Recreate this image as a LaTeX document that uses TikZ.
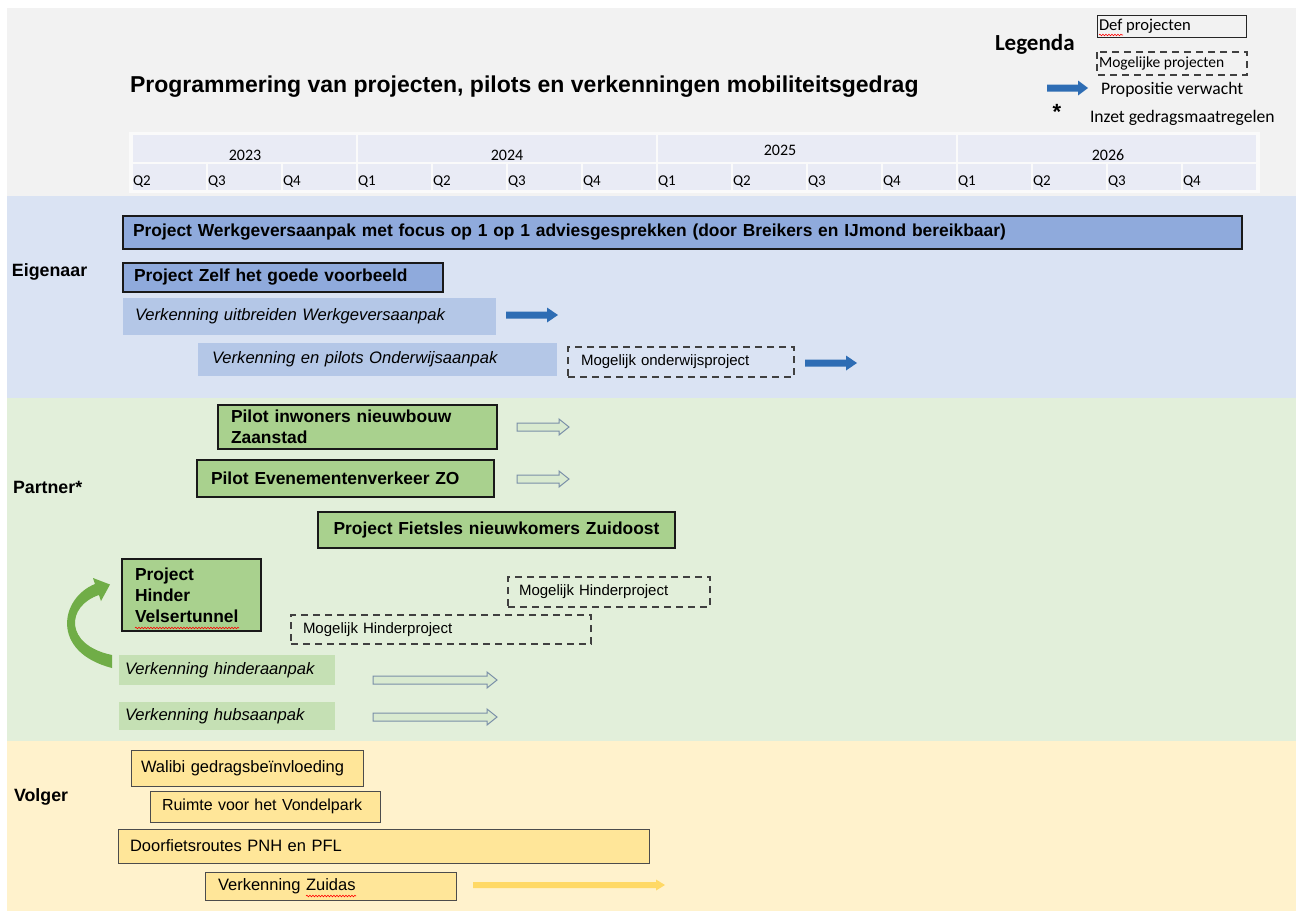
\documentclass[tikz,border=0pt]{standalone}
\usepackage{fontspec}
\setmainfont{Liberation Sans}
\newfontfamily\calfont{Carlito}
\usetikzlibrary{decorations.pathmorphing}
\definecolor{hdrgray}{HTML}{F2F2F2}
\definecolor{eigblue}{HTML}{DAE3F3}
\definecolor{partgreen}{HTML}{E2EFDA}
\definecolor{volyellow}{HTML}{FFF2CC}
\definecolor{tlcell}{HTML}{E9EBF5}
\definecolor{darkbluebox}{HTML}{8FAADC}
\definecolor{lightbluebox}{HTML}{B4C7E7}
\definecolor{arrowblue}{HTML}{2E6DB4}
\definecolor{greenbox}{HTML}{A9D18E}
\definecolor{lightgreenbox}{HTML}{C5E0B4}
\definecolor{hollowfill}{HTML}{D9EAD0}
\definecolor{hollowedge}{HTML}{7A8FA8}
\definecolor{yellowbox}{HTML}{FFE699}
\definecolor{arrowyellow}{HTML}{FFD966}
\definecolor{curvegreen}{HTML}{70AD47}
\newcommand\blkarr[7]{%
  \path[#1] (#2,#4-#5) -- (#3-#7,#4-#5) -- (#3-#7,#4-#6) -- (#3,#4) -- (#3-#7,#4+#6) -- (#3-#7,#4+#5) -- (#2,#4+#5) -- cycle;}
\tikzset{
  every node/.style={inner sep=0pt, outer sep=0pt},
  fb/.style={font=\fontsize{17.4}{21}\selectfont\bfseries},
  fi/.style={font=\fontsize{16.6}{20}\selectfont\itshape},
  fr/.style={font=\fontsize{16.5}{20}\selectfont},
  fs/.style={font=\fontsize{15}{18}\selectfont},
  tbar/.style={anchor=north west, inner ysep=0pt, align=left},
  defbar/.style={tbar, draw=black!90, line width=2.2pt, fb},
  bluedef/.style={defbar, fill=darkbluebox},
  greendef/.style={defbar, fill=greenbox},
  explbar/.style={tbar, fi},
  mogbox/.style={tbar, draw=black!75, line width=1.2pt, dash pattern=on 7pt off 5pt, fs},
  volbox/.style={tbar, fill=yellowbox, draw=black!70, line width=0.9pt, fr},
  secl/.style={anchor=west, font=\fontsize{17.8}{20}\selectfont\bfseries},
  tly/.style={font=\calfont\fontsize{16}{18}\selectfont},
  tlq/.style={font=\calfont\fontsize{15}{18}\selectfont},
  lg/.style={anchor=west, font=\calfont\fontsize{17.6}{20}\selectfont},
  lgbox/.style={anchor=west, font=\calfont\fontsize{16}{18}\selectfont},
  blockblue/.style={fill=arrowblue},
  blockhollow/.style={fill=hollowfill, draw=hollowedge, line width=1pt},
  blockyellow/.style={fill=arrowyellow},
  squig/.style={draw=red, line width=0.6pt, decorate, decoration={snake, amplitude=0.8pt, segment length=3pt}},
}
\begin{document}
\begin{tikzpicture}[x=1pt,y=-1pt]
\useasboundingbox (0,0) rectangle (1298,913);
\fill[white] (0,0) rectangle (1298,913);
\fill[hdrgray] (7,8) rectangle (1296,196);
\fill[eigblue] (7,196) rectangle (1296,398);
\fill[partgreen] (7,398) rectangle (1296,741);
\fill[volyellow] (7,741) rectangle (1296,911);

% timeline
\fill[white!60!hdrgray] (129,132) rectangle (1260,193);
\foreach \x/\y in {132/357, 357/657, 657/957, 957/1257}
  \fill[tlcell] (\x+1,135) rectangle (\y-1,162);
\node[tly] (y2023) at (245,155) {2023};
\node[tly] (y2024) at (507,155) {2024};
\node[tly] (y2025) at (780,150) {2025};
\node[tly] (y2026) at (1108,155) {2026};
\foreach \i/\q in {0/Q2,1/Q3,2/Q4,3/Q1,4/Q2,5/Q3,6/Q4,7/Q1,8/Q2,9/Q3,10/Q4,11/Q1,12/Q2,13/Q3,14/Q4} {
  \fill[tlcell] (132+75*\i+1,164) rectangle (132+75*\i+74,190);
  \node[tlq, anchor=west] (q\i) at (132+75*\i+1,182) {\q};
}

% title and legend
\node[anchor=west, font=\fontsize{23}{26}\selectfont\bfseries] (title) at (130,87)
  {Programmering van projecten, pilots en verkenningen mobiliteitsgedrag};
\node[anchor=west, font=\calfont\fontsize{23}{26}\selectfont\bfseries] (legenda) at (995,44) {Legenda};
\draw[black!85, line width=1pt] (1097,15) rectangle (1246,37);
\node[lgbox, font=\calfont\fontsize{16.6}{18}\selectfont] (ldef) at (1099,26) {Def projecten};
\draw[squig] (1099,35) -- (1123,35);
\draw[black!75, line width=1.2pt, dash pattern=on 7pt off 5pt] (1097,52) rectangle (1247,75);
\node[lgbox, font=\calfont\fontsize{15.5}{18}\selectfont] (lmog) at (1099,63) {Mogelijke projecten};
\blkarr{blockblue}{1047}{1088}{88}{3.5}{7.5}{10}
\node[lg] (lprop) at (1101,90) {Propositie verwacht};
\node[font=\fontsize{22}{22}\selectfont\bfseries] (lstar) at (1057,112) {*};
\node[lg] (linzet) at (1090,118) {Inzet gedragsmaatregelen};

% section labels
\node[secl] (eig) at (12,272) {Eigenaar};
\node[secl] (part) at (13,487) {Partner*};
\node[secl] (volg) at (14,797) {Volger};

% Eigenaar
\node[bluedef, minimum width=1119pt, minimum height=33pt, text width=1099pt, inner xsep=10pt] (e1) at (123,216)
  {Project Werkgeversaanpak met focus op 1 op 1 adviesgesprekken (door Breikers en IJmond bereikbaar)};
\node[bluedef, minimum width=320pt, minimum height=29pt, text width=298pt, inner xsep=11pt] (e2) at (123,263)
  {Project Zelf het goede voorbeeld};
\node[explbar, fill=lightbluebox, minimum width=373pt, minimum height=37pt, text width=349pt, inner xsep=12pt] (e3) at (123,298)
  {Verkenning uitbreiden Werkgeversaanpak};
\blkarr{blockblue}{506}{558}{315}{3.5}{7.5}{11}
\node[explbar, fill=lightbluebox, minimum width=359pt, minimum height=33pt, text width=331pt, inner xsep=14pt] (e4) at (198,343)
  {Verkenning en pilots Onderwijsaanpak};
\node[mogbox, minimum width=226pt, minimum height=30pt, text width=200pt, inner xsep=13pt] (e5) at (568,347)
  {Mogelijk onderwijsproject};
\blkarr{blockblue}{805}{857}{363}{3.5}{7.5}{11}

% Partner
\node[greendef, minimum width=279pt, minimum height=44pt, text width=253pt, inner xsep=13pt] (p1) at (218,405)
  {Pilot inwoners nieuwbouw\\Zaanstad};
\blkarr{blockhollow}{517}{569}{427}{4}{8}{10}
\node[greendef, minimum width=297pt, minimum height=37pt, text width=269pt, inner xsep=14pt] (p2) at (197,460)
  {Pilot Evenementenverkeer ZO};
\blkarr{blockhollow}{517}{569}{479}{4}{8}{10}
\node[greendef, align=center, minimum width=357pt, minimum height=36pt, text width=347pt, inner xsep=5pt] (p3) at (318,512)
  {Project Fietsles nieuwkomers Zuidoost};
\node[greendef, minimum width=139pt, minimum height=72pt, text width=113pt, inner xsep=13pt] (p4) at (122,559)
  {Project\\Hinder\\Velsertunnel};
\draw[squig] (135,628) -- (239,628);
\node[mogbox, minimum width=202pt, minimum height=30pt, text width=180pt, inner xsep=11pt] (p5) at (508,577)
  {Mogelijk Hinderproject};
\node[mogbox, minimum width=300pt, minimum height=29pt, text width=276pt, inner xsep=12pt] (p6) at (291,615)
  {Mogelijk Hinderproject};
\fill[curvegreen] (112,668) .. controls (50,652) and (60,598) .. (95,584) -- (93,578) -- (110,584.5) -- (101,601)
  -- (99,595) .. controls (66,606) and (64,645) .. (112,655) -- cycle;
\node[explbar, fill=lightgreenbox, minimum width=216pt, minimum height=30pt, text width=204pt, inner xsep=6pt] (p7) at (119,655)
  {Verkenning hinderaanpak};
\blkarr{blockhollow}{373}{497}{680}{4}{8}{10}
\node[explbar, fill=lightgreenbox, minimum width=216pt, minimum height=28pt, text width=204pt, inner xsep=6pt] (p8) at (119,702)
  {Verkenning hubsaanpak};
\blkarr{blockhollow}{373}{497}{717}{4}{8}{10}

% Volger
\node[volbox, minimum width=232pt, minimum height=36pt, text width=212pt, inner xsep=10pt] (v1) at (131,750)
  {Walibi gedragsbeïnvloeding};
\node[volbox, font=\fontsize{16}{18}\selectfont, minimum width=230pt, minimum height=31pt, text width=206pt, inner xsep=12pt] (v2) at (150,791)
  {Ruimte voor het Vondelpark};
\node[volbox, minimum width=531pt, minimum height=34pt, text width=507pt, inner xsep=12pt] (v3) at (118,829)
  {Doorfietsroutes PNH en PFL};
\node[volbox, minimum width=251pt, minimum height=28pt, text width=225pt, inner xsep=13pt] (v4) at (205,872)
  {Verkenning Zuidas};
\draw[squig] (306,896) -- (356,896);
\blkarr{blockyellow}{473}{665}{885}{3}{5.5}{9}
\end{tikzpicture}
\end{document}
